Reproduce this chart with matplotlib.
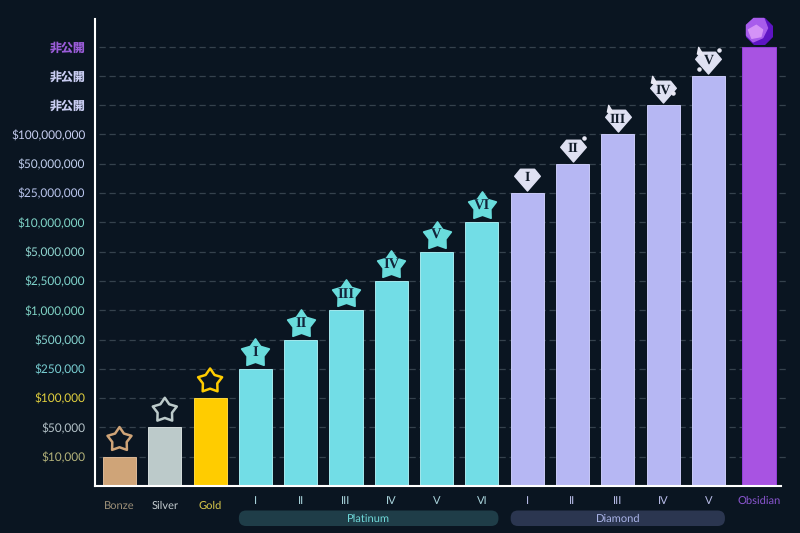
import numpy as np
import matplotlib
matplotlib.use('Agg')
import matplotlib.pyplot as plt
from matplotlib.path import Path
from matplotlib.patches import FancyBboxPatch

plt.rcParams['font.family'] = ['Lato', 'Noto Sans CJK JP', 'DejaVu Sans']
plt.rcParams['text.hinting'] = 'no_hinting'

# data
y_labels = ['$10,000', '$50,000', '$100,000', '$250,000', '$500,000', '$1,000,000',
            '$2,500,000', '$5,000,000', '$10,000,000', '$25,000,000', '$50,000,000',
            '$100,000,000', '非公開', '非公開', '非公開']
y_colors = ['#b3b27a', '#b4c2c8', '#e0cf3e', '#78ced2', '#85d3cf', '#7fd3c5',
            '#7fd4cc', '#8fd5cf', '#7fd4c8', '#b8c4ec', '#bfcdec',
            '#c6cdf0', '#c9cdf2', '#c9cdf2', '#9a5cd8']
x_labels = ['Bonze', 'Silver', 'Gold', 'I', 'II', 'III', 'IV', 'V', 'VI',
            'I', 'II', 'III', 'IV', 'V', 'Obsidian']
x_colors = ['#9c8f78', '#c4ccd0', '#d8c84a'] + ['#a9d4dc'] * 6 + ['#b8bce8'] * 5 + ['#8a55d0']
levels = [1, 2, 3, 4, 5, 6, 7, 8, 9, 10, 11, 12, 13, 14, 15]
bar_colors = ['#cfa478', '#bccaca', '#ffcc00'] + ['#72dde6'] * 6 + ['#b6b7f3'] * 5 + ['#a853e2']
bar_edges = ['#dcb896', '#d4dcdc', '#ffd83a'] + ['#a4e9ee'] * 6 + ['#c9caf7'] * 5 + ['#9340d8']
groups = ['Platinum', 'Diamond']
group_colors = ['#1f3d48', '#2b3650']
group_text = ['#6fd8d8', '#aab4e8']

BG = '#0a1521'
X_UNIT = 45.3  # px per bar slot
Y_UNIT = 29.3  # px per level


def star_path(inner=0.6):
    ang = np.pi / 2 + np.arange(10) * np.pi / 5
    r = np.where(np.arange(10) % 2 == 0, 1, inner)
    pts = np.c_[r * np.cos(ang), r * np.sin(ang)]
    return Path(np.r_[pts, pts[:1]], closed=True)


def poly(pts):
    pts = np.array(pts, float)
    return Path(np.r_[pts, pts[:1]], closed=True)


diamond = poly([(-1, 0.25), (-0.55, 0.8), (0.55, 0.8), (1, 0.25), (0, -0.9)])
spike = poly([(-0.35, 1), (0.6, -0.6), (-0.6, -0.3)])
octagon = poly(np.c_[np.cos(np.pi / 8 + np.arange(8) * np.pi / 4),
                     np.sin(np.pi / 8 + np.arange(8) * np.pi / 4)])
gem_mid = poly([(-1, 0.45), (-0.4, 1), (0.45, 1), (0.75, 0.2), (0.35, -0.6), (-0.45, -0.95), (-1, -0.4)])
gem_in = poly([(-0.8, 0.15), (-0.1, 0.55), (0.45, 0.15), (0.3, -0.45), (-0.5, -0.6)])

fig = plt.figure(figsize=(8, 5.33), dpi=100, facecolor=BG)
ax = fig.add_axes([95 / 800, 47 / 533, 686 / 800, 467 / 533], facecolor=BG)

xs = np.arange(15.0)
xs[-1] += 0.117
ax.set_xlim(-24.5 / X_UNIT, (781 - 119.5) / X_UNIT)
ax.set_ylim(0, 467 / Y_UNIT)

ax.hlines(levels, 4 / X_UNIT - 24.5 / X_UNIT, (788 - 119.5) / X_UNIT, color='#35424d', lw=0.9,
          linestyles=(0, (5, 3)), zorder=1, clip_on=False)
ax.bar(xs, levels, width=0.73, color=bar_colors, edgecolor=bar_edges, lw=0.7, zorder=2)

# stars above the bars
ox = 1 / X_UNIT
oy = 1 / Y_UNIT
star = star_path()
for i in range(3):
    ax.scatter(xs[i], levels[i] + 17 * oy, marker=star, s=330, facecolor='none',
               edgecolor=bar_colors[i], lw=1.8, zorder=3, clip_on=False)
for i in range(3, 9):
    ax.scatter(xs[i], levels[i] + 16 * oy, marker=star, s=440, color='#69dcdc',
               linewidths=1.2, zorder=3, clip_on=False)
    ax.text(xs[i], levels[i] + 16 * oy, x_labels[i], color='#12243a', fontsize=10.5, fontweight='bold',
            family='Liberation Serif', ha='center', va='center', zorder=4)

# diamonds above the bars
for i in range(9, 14):
    ax.scatter(xs[i], levels[i] + 14 * oy, marker=diamond, s=340, color='#dfe1f2', zorder=3, clip_on=False)
    ax.text(xs[i], levels[i] + 15 * oy, x_labels[i], color='#111b28', fontsize=10, fontweight='bold',
            family='Liberation Serif', ha='center', va='center', zorder=4)
sparks_x = [xs[10] + 11 * ox, xs[12] + 10 * ox, xs[13] + 11 * ox, xs[13] - 9 * ox]
sparks_y = [levels[10] + 26 * oy, levels[12] + 12 * oy, levels[13] + 26 * oy, levels[13] + 7 * oy]
ax.scatter(sparks_x, sparks_y, s=5, color='#e8e8f4', zorder=3, clip_on=False)
spike_x = [xs[11] - 8 * ox, xs[12] - 9 * ox, xs[13] - 8 * ox]
spike_y = [levels[11] + 24 * oy, levels[12] + 24 * oy, levels[13] + 24 * oy]
ax.scatter(spike_x, spike_y, marker=spike, s=55, color='#e8e8f4', zorder=3, clip_on=False)

# obsidian gem
gem_y = levels[14] + 15.5 * oy
ax.scatter(xs[14], gem_y, marker=octagon, s=340, color='#5e14c4', zorder=3, clip_on=False)
ax.scatter(xs[14] - 1 * ox, gem_y + 1 * oy, marker=gem_mid, s=300, color='#a85cec', zorder=4, clip_on=False)
ax.scatter(xs[14] - 2 * ox, gem_y, marker=gem_in, s=170, color='#d493f7', zorder=5, clip_on=False)

# y axis labels
ax.set_yticks(levels)
ax.set_yticklabels(y_labels)
for lab, col in zip(ax.get_yticklabels(), y_colors):
    lab.set_color(col)
    lab.set_fontsize(8.6)
    lab.set_fontweight('bold' if lab.get_text().startswith('非') else 'normal')
ax.tick_params(axis='y', length=0, pad=7)

# x axis labels
ax.set_xticks(xs)
ax.set_xticklabels(x_labels)
ax.tick_params(axis='x', length=0)
for i, (tick, col) in enumerate(zip(ax.xaxis.get_major_ticks(), x_colors)):
    tick.set_pad(11 if i < 3 else 7)
    tick.label1.set_color(col)
    tick.label1.set_fontsize(8)

# group pills
for name, first, last, fc, tc in zip(groups, [3, 9], [8, 13], group_colors, group_text):
    x0 = xs[first] - 0.365
    x1 = xs[last] + 0.365
    pill = FancyBboxPatch((x0, -40 * oy), x1 - x0, 15.5 * oy, transform=ax.transData,
                          boxstyle='round,pad=0,rounding_size=0.16', mutation_aspect=X_UNIT / Y_UNIT,
                          fc=fc, ec='none', clip_on=False)
    ax.add_patch(pill)
    ax.text((x0 + x1) / 2, -33 * oy, name, color=tc, fontsize=8, ha='center', va='center')

for side in ['top', 'right']:
    ax.spines[side].set_visible(False)
for side in ['left', 'bottom']:
    ax.spines[side].set_color('white')
    ax.spines[side].set_linewidth(1.5)
    ax.spines[side].set_zorder(6)

fig.savefig('out.png', dpi=100, facecolor=BG)
